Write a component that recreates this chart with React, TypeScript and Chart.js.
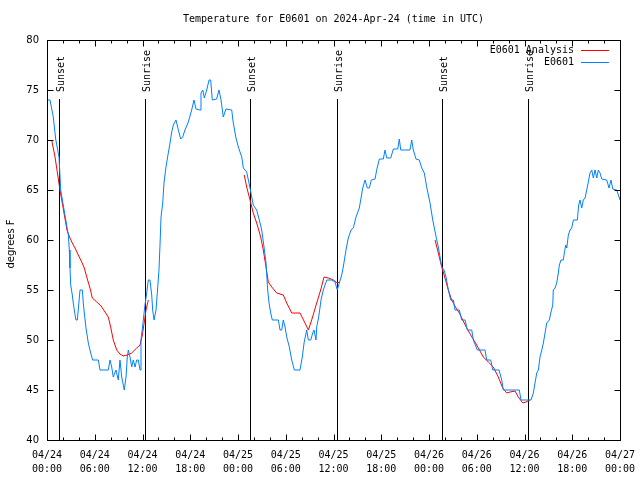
import React, { useEffect, useRef } from 'react';
import { Chart, registerables } from 'chart.js';

Chart.register(...registerables);

const titleText = 'Temperature for E0601 on 2024-Apr-24 (time in UTC)';
const yAxisTitle = 'degrees F';
const legendLabels = ['E0601 Analysis', 'E0601'];
const seriesColors = ['#ff0000', '#0080ff'];

// x axis: hours since 2024-04-24 00:00 UTC
const xTickDates = ['04/24', '04/24', '04/24', '04/24', '04/25', '04/25', '04/25', '04/25', '04/26', '04/26', '04/26', '04/26', '04/27'];
const xTickTimes = ['00:00', '06:00', '12:00', '18:00', '00:00', '06:00', '12:00', '18:00', '00:00', '06:00', '12:00', '18:00', '00:00'];

const sunHours = [1.5, 12.3, 25.5, 36.45, 49.6, 60.45];
const sunLabels = ['Sunset', 'Sunrise', 'Sunset', 'Sunrise', 'Sunset', 'Sunrise'];

// observed E0601 temperature
const obsHours = [
  0, 0.38, 0.79, 1.09, 1.51, 1.72, 2.68, 2.8, 2.89, 2.98, 3.18, 3.3, 3.43, 3.64, 3.81, 4.06, 4.15, 4.44, 4.56, 4.69,
  4.9, 5.19, 5.49, 5.74, 6.45, 6.66, 7.7, 7.92, 8.13, 8.33, 8.67, 8.96, 9.17, 9.39, 9.71, 9.93, 10.09, 10.22, 10.43, 10.64,
  10.84, 11.06, 11.27, 11.47, 11.69, 11.81, 12.03, 12.31, 12.53, 12.73, 12.94, 13.16, 13.28, 13.45, 13.7, 13.86, 14.07, 14.2, 14.33, 14.54,
  14.7, 14.95, 15.24, 15.46, 15.67, 15.87, 16.21, 16.5, 16.8, 17.05, 17.34, 17.76, 18.18, 18.47, 18.72, 19.23, 19.35, 19.57, 19.77, 20.07,
  20.36, 20.57, 20.77, 21.32, 21.61, 21.87, 22.15, 22.49, 23.21, 23.41, 23.75, 24.04, 24.47, 24.67, 25.09, 25.51, 25.92, 26.35, 26.68, 26.98,
  27.27, 27.52, 27.73, 27.9, 28.11, 28.31, 29.07, 29.28, 29.49, 29.69, 29.91, 30.12, 30.45, 30.75, 31.08, 31.79, 32.08, 32.3, 32.63, 32.84,
  33.14, 33.39, 33.55, 33.8, 33.89, 34.14, 34.43, 34.72, 35.15, 35.78, 36.19, 36.48, 36.73, 37.03, 37.23, 37.57, 37.86, 38.2, 38.49, 38.83,
  39.24, 39.42, 39.67, 39.96, 40.25, 40.5, 40.75, 41.22, 41.43, 41.76, 42.26, 42.47, 42.69, 43.19, 43.52, 44.07, 44.27, 44.45, 45.61, 45.83,
  46.03, 46.37, 46.78, 47.09, 47.41, 47.71, 48.13, 48.47, 48.97, 49.17, 49.39, 49.6, 49.89, 50.14, 50.43, 50.73, 51.06, 51.27, 51.81, 52.11,
  52.53, 52.82, 53.37, 53.57, 54.07, 55.04, 55.25, 55.76, 56.01, 56.8, 57.14, 57.34, 59.35, 59.56, 60.82, 61.11, 61.32, 61.54, 61.74, 61.95,
  62.17, 62.37, 62.58, 62.79, 63.12, 63.3, 63.55, 63.62, 63.84, 64.05, 64.25, 64.38, 64.59, 64.88, 65.0, 65.18, 65.31, 65.51, 65.72, 65.93,
  66.14, 66.64, 66.81, 66.98, 67.19, 67.39, 67.61, 67.82, 68.02, 68.23, 68.45, 68.65, 68.86, 69.08, 69.28, 69.49, 69.7, 70.33, 70.62, 70.87,
  71.09, 71.59, 71.92, 72.0,
];
const obsTemps = [
  74, 74, 72.3, 70.1, 68.3, 65, 60.5, 59, 57.2, 55.5, 54.5, 53.7, 53, 52, 52, 54.2, 55, 55, 53.7, 52.7,
  51.2, 49.7, 48.7, 48, 48, 47, 47, 48, 47.3, 46.3, 47, 46, 48, 46.3, 45, 46.3, 48.3, 49, 48.3, 47.3,
  48, 47.3, 48, 48, 47, 50, 51.5, 53.5, 54.7, 56, 56, 54.5, 53, 52, 53, 54.7, 57, 59.5, 62.3, 63.7,
  65.7, 67.3, 68.7, 69.7, 70.8, 71.5, 72, 71, 70.1, 70.3, 71, 71.8, 73, 74, 73.1, 73, 74.7, 75, 74.2, 75,
  76, 76, 74, 74.1, 75, 74, 72.3, 73.1, 73, 71.7, 70.2, 69.3, 68.3, 67.2, 66.8, 65.2, 63.5, 63, 62, 61,
  59.3, 57.7, 55, 53.7, 52.7, 52, 52, 51, 51, 52, 51.3, 50.3, 49.3, 48, 47, 47, 48.3, 49.7, 51, 50,
  50, 50.7, 51, 50, 51.3, 52.3, 54, 55, 56, 56, 55.8, 55, 55.7, 56.5, 57.3, 59, 60.2, 61, 61.2, 62.3,
  63.2, 64, 65.2, 66, 65.2, 65.2, 66, 66.1, 67, 68.1, 68.1, 69, 68.2, 68.2, 69.1, 69.1, 70.1, 69, 69, 70,
  69, 68.1, 68, 67.2, 66.7, 65.3, 63.7, 62, 60, 59.3, 58.3, 57.3, 57, 56.3, 55, 54, 54, 53, 53, 52,
  52, 51, 51, 50, 49, 49, 48, 48, 47, 47, 46, 45, 45, 44, 44, 44.7, 45.7, 46.7, 47, 48.3,
  49, 49.7, 50.7, 51.7, 52, 52.7, 53.5, 55, 55.2, 55.7, 56.7, 57.5, 58, 58, 58.7, 59.5, 59.2, 60.5, 61, 61.2,
  62, 62, 63.5, 64, 63.2, 64, 64.2, 65, 65.8, 66.7, 67, 66.2, 67, 66.2, 67, 66.7, 66.1, 66, 65.2, 66,
  65.1, 65, 64.2, 64,
];

// E0601 analysis, three night-time segments
const anaHours1 = [0.59, 1.01, 1.63, 2.51, 2.89, 3.18, 3.52, 3.93, 4.36, 4.69, 4.99, 5.4, 5.69, 6.25, 6.79, 7.29, 7.7, 8.0, 8.33, 8.76, 9.17, 9.59, 10.09, 10.64, 11.27, 11.69, 11.98, 12.23, 12.44, 12.73];
const anaTemps1 = [70, 68.3, 65, 61, 60.2, 59.7, 59.2, 58.5, 57.8, 57.2, 56.3, 55.2, 54.2, 53.8, 53.4, 52.8, 52.3, 51.3, 50, 49, 48.6, 48.4, 48.5, 48.7, 49.2, 49.5, 50.5, 51.8, 53, 54];
const anaHours2 = [24.79, 25.09, 25.51, 25.92, 26.35, 26.85, 27.18, 27.52, 27.81, 28.24, 28.86, 29.69, 30.12, 30.75, 31.79, 32.42, 32.84, 33.26, 33.89, 34.39, 34.81, 35.35, 35.98, 36.48, 36.82];
const anaTemps2 = [66.5, 65.3, 64, 62.7, 61.7, 60.3, 59, 57.3, 55.8, 55.3, 54.7, 54.5, 53.7, 52.7, 52.7, 51.7, 51, 52, 53.7, 55, 56.3, 56.2, 56, 55.7, 55.8];
const anaHours3 = [48.76, 49.17, 49.6, 50.01, 50.43, 50.85, 51.4, 51.81, 52.24, 52.74, 53.24, 53.78, 54.2, 54.83, 55.45, 56.08, 56.71, 57.26, 57.77, 58.18, 58.81, 59.22, 59.78, 60.19, 60.69];
const anaTemps3 = [60, 58.7, 57.3, 56.2, 55, 54, 53.2, 52.7, 52, 51.2, 50.5, 49.8, 49.2, 48.3, 47.8, 47.3, 46.3, 45.2, 44.7, 44.8, 44.9, 44.3, 43.7, 43.8, 44];

const X_MIN = 0;
const X_MAX = 72;
const Y_MIN = 40;
const Y_MAX = 80;

const MONO = '"DejaVu Sans Mono", "Liberation Mono", monospace';
const SANS = '"DejaVu Sans", "Liberation Sans", sans-serif';

function toPoints(hs: number[], ts: number[]) {
  return hs.map((h, i) => ({ x: h, y: ts[i] }));
}

const decorPlugin = {
  id: 'gnuplotDecor',
  beforeDatasetsDraw(chart: any) {
    const { ctx, chartArea, scales } = chart;
    const xs = scales.x;
    ctx.save();
    ctx.strokeStyle = '#000';
    ctx.lineWidth = 1;
    ctx.fillStyle = '#000';
    ctx.font = `10px ${MONO}`;
    sunHours.forEach((h, i) => {
      const px = Math.round(xs.getPixelForValue(h)) + 0.5;
      ctx.beginPath();
      ctx.moveTo(px, chartArea.top + 59);
      ctx.lineTo(px, chartArea.bottom);
      ctx.stroke();
      ctx.save();
      ctx.translate(px + 2, chartArea.top + 52);
      ctx.rotate(-Math.PI / 2);
      ctx.textAlign = 'left';
      ctx.textBaseline = 'middle';
      ctx.fillText(sunLabels[i], 0, 0);
      ctx.restore();
    });
    ctx.restore();
  },
  afterDraw(chart: any) {
    const { ctx, chartArea, scales } = chart;
    const xs = scales.x;
    const ys = scales.y;
    const l = chartArea.left + 0.5;
    const r = chartArea.right + 0.5;
    const t = chartArea.top + 0.5;
    const b = chartArea.bottom + 0.5;
    ctx.save();
    ctx.strokeStyle = '#000';
    ctx.lineWidth = 1;
    ctx.strokeRect(l, t, r - l, b - t);
    ctx.beginPath();
    for (let h = X_MIN; h <= X_MAX; h += 2) {
      const px = Math.round(xs.getPixelForValue(h)) + 0.5;
      const len = h % 6 === 0 ? 6 : 3;
      ctx.moveTo(px, b);
      ctx.lineTo(px, b - len);
      ctx.moveTo(px, t);
      ctx.lineTo(px, t + len);
    }
    for (let v = Y_MIN; v <= Y_MAX; v += 5) {
      const py = Math.round(ys.getPixelForValue(v)) + 0.5;
      ctx.moveTo(l, py);
      ctx.lineTo(l + 6, py);
      ctx.moveTo(r, py);
      ctx.lineTo(r - 6, py);
    }
    ctx.stroke();

    // title
    ctx.fillStyle = '#000';
    ctx.font = `10px ${MONO}`;
    ctx.textAlign = 'center';
    ctx.textBaseline = 'middle';
    ctx.fillText(titleText, (chartArea.left + chartArea.right) / 2, 19);

    // y axis title
    ctx.save();
    ctx.font = `10px ${SANS}`;
    ctx.translate(11, (chartArea.top + chartArea.bottom) / 2 + 4);
    ctx.rotate(-Math.PI / 2);
    ctx.fillText(yAxisTitle, 0, 0);
    ctx.restore();

    // legend
    ctx.font = `10px ${MONO}`;
    ctx.textAlign = 'right';
    legendLabels.forEach((lab, i) => {
      const y = chartArea.top + 10 + i * 12;
      ctx.fillStyle = '#000';
      ctx.fillText(lab, chartArea.right - 46, y);
      ctx.strokeStyle = seriesColors[i];
      ctx.beginPath();
      ctx.moveTo(chartArea.right - 39, y + 0.5);
      ctx.lineTo(chartArea.right - 11, y + 0.5);
      ctx.stroke();
    });
    ctx.restore();
  },
};

export default function App() {
  const canvasRef = useRef<HTMLCanvasElement | null>(null);

  useEffect(() => {
    document.body.style.margin = '0';
    const canvas = canvasRef.current;
    if (!canvas) return;
    const analysisPoints: any[] = [
      ...toPoints(anaHours1, anaTemps1),
      { x: (anaHours1[anaHours1.length - 1] + anaHours2[0]) / 2, y: null },
      ...toPoints(anaHours2, anaTemps2),
      { x: (anaHours2[anaHours2.length - 1] + anaHours3[0]) / 2, y: null },
      ...toPoints(anaHours3, anaTemps3),
    ];
    const chart = new Chart(canvas, {
      type: 'line',
      data: {
        datasets: [
          {
            label: legendLabels[1],
            data: toPoints(obsHours, obsTemps),
            borderColor: seriesColors[1],
            borderWidth: 1,
            pointRadius: 0,
            tension: 0,
            fill: false,
          },
          {
            label: legendLabels[0],
            data: analysisPoints,
            borderColor: seriesColors[0],
            borderWidth: 1,
            pointRadius: 0,
            tension: 0,
            fill: false,
            spanGaps: false,
          },
        ],
      },
      options: {
        animation: false,
        responsive: false,
        maintainAspectRatio: false,
        parsing: false,
        layout: { padding: { top: 40, right: 20, left: 0, bottom: 0 } },
        plugins: {
          legend: { display: false },
          title: { display: false },
          tooltip: { enabled: false },
        },
        scales: {
          x: {
            type: 'linear',
            min: X_MIN,
            max: X_MAX,
            grid: { display: false },
            border: { display: false },
            afterFit: (s: any) => {
              s.height = 40;
            },
            ticks: {
              stepSize: 6,
              autoSkip: false,
              maxRotation: 0,
              padding: 0,
              color: '#000',
              font: { family: MONO, size: 10, lineHeight: 1.4 },
              callback: (v: any) => {
                const i = Math.round(Number(v) / 6);
                return [xTickDates[i], xTickTimes[i]];
              },
            },
          },
          y: {
            type: 'linear',
            min: Y_MIN,
            max: Y_MAX,
            grid: { display: false },
            border: { display: false },
            afterFit: (s: any) => {
              s.width = 47;
            },
            ticks: {
              stepSize: 5,
              padding: 0,
              color: '#000',
              font: { family: SANS, size: 10 },
            },
          },
        },
      },
      plugins: [decorPlugin],
    });
    return () => chart.destroy();
  }, []);

  return (
    <div style={{ position: 'absolute', left: 0, top: 0, width: 640, height: 480, background: '#fff' }}>
      <canvas ref={canvasRef} width={640} height={480} />
    </div>
  );
}
